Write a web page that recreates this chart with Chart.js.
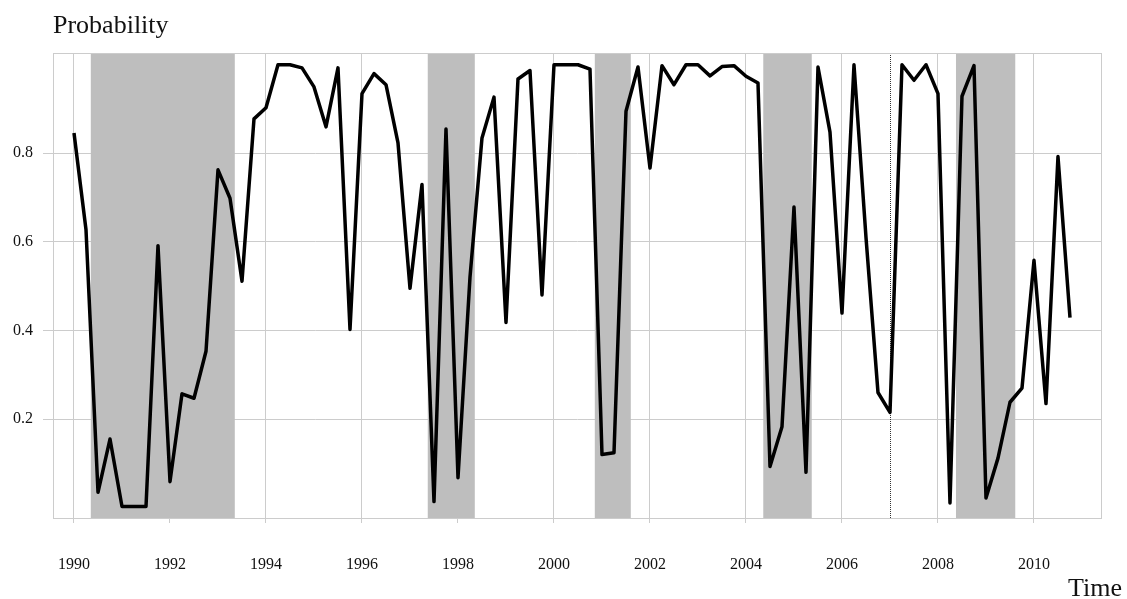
<!DOCTYPE html>
<html lang="en">
<head>
    <meta charset="UTF-8">
    <title>Probability over Time</title>
    <script src="https://cdn.jsdelivr.net/npm/chart.js"></script>
    <style>
        html, body { margin: 0; padding: 0; background: #ffffff; }
        .chart-container { width: 1127px; height: 599px; }
    </style>
</head>
<body>
    <div class="chart-container">
        <canvas id="probChart" width="1127" height="599"></canvas>
    </div>

    <script>
        // quarterly series, first point is 1990 Q1
        const startYear = 1990;
        const probability = [
            0.845, 0.627, 0.035, 0.155, 0.003, 0.003, 0.003, 0.591, 0.059, 0.257, 0.247, 0.353,
            0.762, 0.698, 0.511, 0.877, 0.902, 0.999, 0.999, 0.992, 0.949, 0.859, 0.992, 0.402,
            0.934, 0.979, 0.954, 0.823, 0.495, 0.729, 0.014, 0.854, 0.068, 0.520, 0.834, 0.926,
            0.418, 0.967, 0.986, 0.480, 0.999, 0.999, 0.999, 0.989, 0.120, 0.124, 0.894, 0.994,
            0.766, 0.997, 0.954, 0.999, 0.999, 0.974, 0.995, 0.997, 0.973, 0.958, 0.093, 0.183,
            0.678, 0.080, 0.994, 0.847, 0.439, 0.999, 0.610, 0.260, 0.215, 0.999, 0.964, 0.999,
            0.934, 0.011, 0.928, 0.997, 0.022, 0.112, 0.238, 0.270, 0.558, 0.235, 0.792, 0.429
        ];

        // shaded periods (start, end) in years
        const shadeStart = [1990.35, 1997.37, 2000.85, 2004.36, 2008.375];
        const shadeEnd   = [1993.35, 1998.35, 2001.60, 2005.37, 2009.61];

        const markerYear = 2007.0;

        const xTicks = [1990, 1992, 1994, 1996, 1998, 2000, 2002, 2004, 2006, 2008, 2010];
        const yTicks = [0.2, 0.4, 0.6, 0.8];

        const points = probability.map((p, i) => ({ x: startYear + i / 4, y: p }));

        const serif = '"Liberation Serif", "DejaVu Serif", serif';

        const decorations = {
            id: 'decorations',
            beforeDatasetsDraw(chart) {
                const { ctx, chartArea, scales } = chart;
                ctx.save();
                ctx.fillStyle = '#bebebe';
                for (let i = 0; i < shadeStart.length; i++) {
                    const x0 = scales.x.getPixelForValue(shadeStart[i]);
                    const x1 = scales.x.getPixelForValue(shadeEnd[i]);
                    ctx.fillRect(x0, chartArea.top, x1 - x0, chartArea.bottom - chartArea.top);
                }
                // dotted marker line
                const xm = Math.round(scales.x.getPixelForValue(markerYear)) + 0.5;
                ctx.strokeStyle = '#333333';
                ctx.lineWidth = 1;
                ctx.setLineDash([1, 1]);
                ctx.beginPath();
                ctx.moveTo(xm, chartArea.top);
                ctx.lineTo(xm, chartArea.bottom);
                ctx.stroke();
                ctx.restore();
            },
            afterDraw(chart) {
                const { ctx, chartArea } = chart;
                ctx.save();
                // frame around plot area
                ctx.strokeStyle = '#cccccc';
                ctx.lineWidth = 1;
                ctx.strokeRect(chartArea.left + 0.5, chartArea.top + 0.5,
                    chartArea.right - chartArea.left - 1, chartArea.bottom - chartArea.top);
                // axis titles
                ctx.fillStyle = '#111111';
                ctx.font = '26px ' + serif;
                ctx.textBaseline = 'alphabetic';
                ctx.textAlign = 'left';
                ctx.fillText('Probability', 53, 33);
                ctx.textAlign = 'right';
                ctx.fillText('Time', 1122, 596);
                ctx.restore();
            }
        };

        const ctx = document.getElementById('probChart').getContext('2d');

        new Chart(ctx, {
            type: 'line',
            data: {
                datasets: [{
                    label: 'Probability',
                    data: points,
                    borderColor: '#000000',
                    borderWidth: 3.5,
                    borderJoinStyle: 'round',
                    pointRadius: 0,
                    fill: false,
                    tension: 0
                }]
            },
            options: {
                responsive: false,
                animation: false,
                layout: { padding: { top: 53, right: 25, left: 0, bottom: 0 } },
                plugins: {
                    legend: { display: false },
                    tooltip: { enabled: false }
                },
                scales: {
                    x: {
                        type: 'linear',
                        min: 1989.5625,
                        max: 2011.417,
                        afterBuildTicks: scale => { scale.ticks = xTicks.map(v => ({ value: v })); },
                        afterFit: scale => { scale.height = 81; },
                        grid: { color: '#cccccc', lineWidth: 1, tickLength: 5, drawTicks: true },
                        border: { display: false },
                        ticks: {
                            padding: 32,
                            color: '#111111',
                            font: { family: serif, size: 16 },
                            maxRotation: 0,
                            callback: v => String(v)
                        }
                    },
                    y: {
                        min: -0.023,
                        max: 1.0255,
                        afterBuildTicks: scale => { scale.ticks = yTicks.map(v => ({ value: v })); },
                        afterFit: scale => { scale.width = 53; },
                        grid: { color: '#cccccc', lineWidth: 1, tickLength: 10, drawTicks: true },
                        border: { display: false },
                        ticks: {
                            padding: 10,
                            color: '#111111',
                            font: { family: serif, size: 16 },
                            callback: v => v.toFixed(1)
                        }
                    }
                }
            },
            plugins: [decorations]
        });
    </script>
</body>
</html>
